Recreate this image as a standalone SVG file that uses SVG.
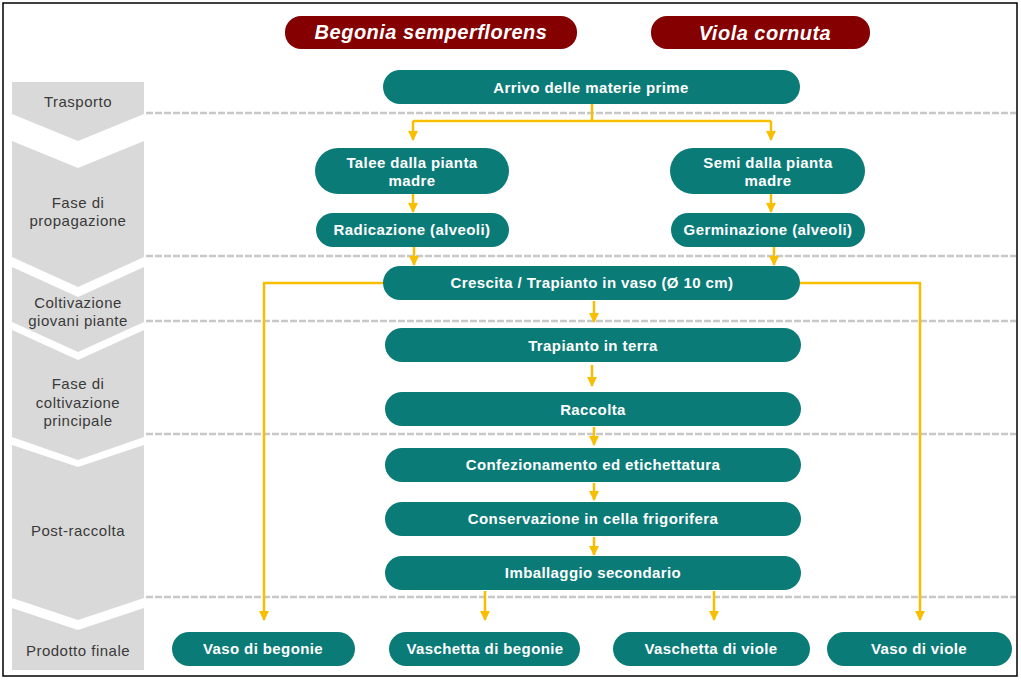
<svg xmlns="http://www.w3.org/2000/svg" width="1021" height="684" viewBox="0 0 1021 684">
<defs>
<style>
.phase{fill:#d9d9d9}
.plbl{font-family:"Liberation Sans",Arial,sans-serif;font-size:15px;letter-spacing:0.5px;fill:#3a3a3a;text-anchor:middle}
.dash{stroke:#c8c8c8;stroke-width:2.5;stroke-dasharray:7 2;fill:none}
.title rect{fill:#850000}
.title text{font-family:"Liberation Sans",Arial,sans-serif;font-size:20px;letter-spacing:0.5px;font-weight:bold;font-style:italic;fill:#fff;text-anchor:middle}
.node rect{fill:#0b7b78}
.node text{font-family:"Liberation Sans",Arial,sans-serif;font-size:15px;letter-spacing:0.4px;font-weight:bold;fill:#fff;text-anchor:middle}
.conn path{stroke:#f7bf00;stroke-width:2.5;fill:none}
</style>
<marker id="ah" viewBox="0 0 10 10" refX="9" refY="5" markerWidth="4" markerHeight="4" orient="auto" markerUnits="strokeWidth">
<path d="M0,0 L10,5 L0,10 Z" fill="#f7bf00"/>
</marker>
</defs>
<rect x="3" y="3" width="1014" height="673" fill="#fff" stroke="#000" stroke-width="1.5"/>

<g id="phases">
<path class="phase" d="M12,82 H144 V114 L78,141 L12,114 Z"/>
<path class="phase" d="M12,141 L78,168 L144,141 V257 L78,287 L12,257 Z"/>
<path class="phase" d="M12,267 L78,297 L144,267 V322 L78,352 L12,322 Z"/>
<path class="phase" d="M12,330 L78,360 L144,330 V437 L78,460 L12,437 Z"/>
<path class="phase" d="M12,445 L78,467 L144,445 V598 L78,620 L12,598 Z"/>
<path class="phase" d="M12,608 L78,630 L144,608 V670 H12 Z"/>
<text class="plbl" x="78" y="107">Trasporto</text>
<text class="plbl" x="78" y="208">Fase di</text>
<text class="plbl" x="78" y="226">propagazione</text>
<text class="plbl" x="78" y="308">Coltivazione</text>
<text class="plbl" x="78" y="326">giovani piante</text>
<text class="plbl" x="78" y="389">Fase di</text>
<text class="plbl" x="78" y="408">coltivazione</text>
<text class="plbl" x="78" y="426">principale</text>
<text class="plbl" x="78" y="536">Post-raccolta</text>
<text class="plbl" x="78" y="656">Prodotto finale</text>
</g>

<g id="dividers">
<path class="dash" d="M146,113 H1016"/>
<path class="dash" d="M146,256 H1016"/>
<path class="dash" d="M146,321 H1016"/>
<path class="dash" d="M146,434 H1016"/>
<path class="dash" d="M146,597 H1016"/>
</g>

<g id="title-begonia" class="title"><rect x="285" y="16" width="292" height="33" rx="16"/><text x="431" y="39">Begonia semperflorens</text></g>
<g id="title-viola" class="title"><rect x="651" y="16" width="219" height="33" rx="16"/><text x="765" y="40">Viola cornuta</text></g>

<g id="connectors" class="conn">
<path d="M592,104 V121 M413,121 H771"/>
<path d="M413,121 V140" marker-end="url(#ah)"/>
<path d="M771,121 V140" marker-end="url(#ah)"/>
<path d="M413,194 V212" marker-end="url(#ah)"/>
<path d="M771,194 V212" marker-end="url(#ah)"/>
<path d="M414,247 V265" marker-end="url(#ah)"/>
<path d="M774,247 V265" marker-end="url(#ah)"/>
<path d="M594,301 V322" marker-end="url(#ah)"/>
<path d="M592,365 V386" marker-end="url(#ah)"/>
<path d="M594,427 V445" marker-end="url(#ah)"/>
<path d="M594,483 V500" marker-end="url(#ah)"/>
<path d="M594,537 V555" marker-end="url(#ah)"/>
<path d="M485,591 V620" marker-end="url(#ah)"/>
<path d="M714,591 V620" marker-end="url(#ah)"/>
<path d="M383,283 H264 V620" marker-end="url(#ah)"/>
<path d="M800,283 H920 V620" marker-end="url(#ah)"/>
</g>

<g id="n-arrivo" class="node"><rect x="383" y="70" width="417" height="34" rx="17"/><text x="591" y="93">Arrivo delle materie prime</text></g>
<g id="n-talee" class="node"><rect x="315" y="148" width="194" height="46" rx="23"/><text x="412" y="168">Talee dalla pianta</text><text x="412" y="186">madre</text></g>
<g id="n-semi" class="node"><rect x="670" y="148" width="195" height="46" rx="23"/><text x="768" y="168">Semi dalla pianta</text><text x="768" y="186">madre</text></g>
<g id="n-radicazione" class="node"><rect x="316" y="213" width="193" height="34" rx="17"/><text x="412" y="235">Radicazione (alveoli)</text></g>
<g id="n-germinazione" class="node"><rect x="671" y="213" width="194" height="34" rx="17"/><text x="768" y="235">Germinazione (alveoli)</text></g>
<g id="n-crescita" class="node"><rect x="383" y="266" width="417" height="34" rx="17"/><text x="592" y="288">Crescita / Trapianto in vaso (Ø 10 cm)</text></g>
<g id="n-trapianto" class="node"><rect x="385" y="328" width="416" height="34" rx="17"/><text x="593" y="351">Trapianto in terra</text></g>
<g id="n-raccolta" class="node"><rect x="385" y="392" width="416" height="34" rx="17"/><text x="593" y="415">Raccolta</text></g>
<g id="n-confezionamento" class="node"><rect x="385" y="448" width="416" height="34" rx="17"/><text x="593" y="470">Confezionamento ed etichettatura</text></g>
<g id="n-conservazione" class="node"><rect x="385" y="502" width="416" height="34" rx="17"/><text x="593" y="524">Conservazione in cella frigorifera</text></g>
<g id="n-imballaggio" class="node"><rect x="385" y="556" width="416" height="34" rx="17"/><text x="593" y="578">Imballaggio secondario</text></g>
<g id="n-vaso-begonie" class="node"><rect x="172" y="632" width="183" height="34" rx="17"/><text x="263" y="654">Vaso di begonie</text></g>
<g id="n-vaschetta-begonie" class="node"><rect x="389" y="632" width="191" height="34" rx="17"/><text x="485" y="654">Vaschetta di begonie</text></g>
<g id="n-vaschetta-viole" class="node"><rect x="613" y="632" width="197" height="34" rx="17"/><text x="711" y="654">Vaschetta di viole</text></g>
<g id="n-vaso-viole" class="node"><rect x="827" y="632" width="185" height="34" rx="17"/><text x="919" y="654">Vaso di viole</text></g>
</svg>
